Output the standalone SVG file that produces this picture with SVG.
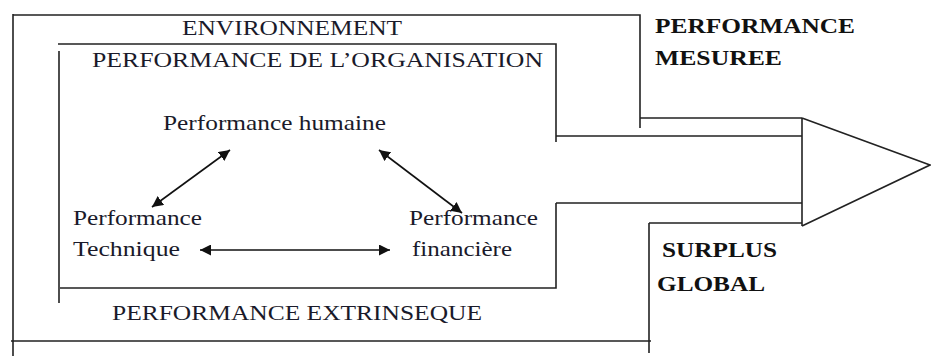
<svg xmlns="http://www.w3.org/2000/svg" width="931" height="356" viewBox="0 0 931 356">
<defs>
<marker id="ah" viewBox="0 0 10 10" refX="10" refY="5" markerWidth="11" markerHeight="11" markerUnits="userSpaceOnUse" orient="auto-start-reverse">
<path d="M0,0 L10,5 L0,10 z" fill="#111"/>
</marker>
<style>
.ln{fill:none;stroke:#222;stroke-width:1.6}
.t{font-family:"Liberation Serif","Times New Roman",serif;font-size:21px;fill:#1a1a2a}
.b{font-family:"Liberation Serif","Times New Roman",serif;font-size:21px;font-weight:bold;fill:#111}
.ar{stroke:#111;stroke-width:1.6;fill:none;marker-start:url(#ah);marker-end:url(#ah)}
</style>
</defs>
<rect width="931" height="356" fill="#fff"/>
<g id="environment">
<path class="ln" d="M13,14 V356 M13,15 H640 V128 M640,118 H802 M11,341 H651 M649,223 V353 M649,223 H802"/>
<text class="t" x="182" y="35" textLength="220" lengthAdjust="spacingAndGlyphs">ENVIRONNEMENT</text>
</g>
<g id="organisation">
<path class="ln" d="M58,44 H556 V142 M556,136 H802 M59,51 V303 M60,288 H556 V203 M556,203 H802"/>
<text class="t" x="92" y="67" textLength="451" lengthAdjust="spacingAndGlyphs">PERFORMANCE DE L’ORGANISATION</text>
</g>
<g id="extrinseque">
<text class="t" x="112" y="320" textLength="370" lengthAdjust="spacingAndGlyphs">PERFORMANCE EXTRINSEQUE</text>
</g>
<g id="arrow-head">
<path class="ln" d="M802,118 V226 M802,118 L930,165 L802,226"/>
</g>
<g id="humaine">
<text class="t" x="163" y="130" textLength="223" lengthAdjust="spacingAndGlyphs">Performance humaine</text>
</g>
<g id="technique">
<text class="t" x="73" y="225" textLength="129" lengthAdjust="spacingAndGlyphs">Performance</text>
<text class="t" x="73" y="256" textLength="107" lengthAdjust="spacingAndGlyphs">Technique</text>
</g>
<g id="financiere">
<text class="t" x="409" y="225" textLength="129" lengthAdjust="spacingAndGlyphs">Performance</text>
<text class="t" x="412" y="256" textLength="100" lengthAdjust="spacingAndGlyphs">financière</text>
</g>
<g id="mesuree">
<text class="b" x="655" y="33" textLength="200" lengthAdjust="spacingAndGlyphs">PERFORMANCE</text>
<text class="b" x="655" y="65" textLength="127" lengthAdjust="spacingAndGlyphs">MESUREE</text>
</g>
<g id="surplus">
<text class="b" x="662" y="257" textLength="115" lengthAdjust="spacingAndGlyphs">SURPLUS</text>
<text class="b" x="657" y="291" textLength="108" lengthAdjust="spacingAndGlyphs">GLOBAL</text>
</g>
<g id="connectors">
<line class="ar" x1="152" y1="207" x2="230" y2="150"/>
<line class="ar" x1="379" y1="150" x2="462" y2="213"/>
<line class="ar" x1="200" y1="250" x2="390" y2="250"/>
</g>
</svg>
